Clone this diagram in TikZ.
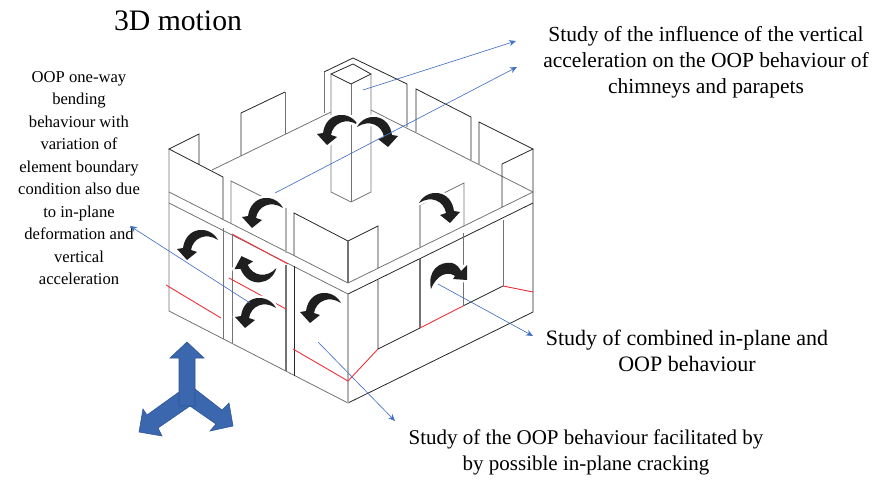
\documentclass[tikz,border=0pt]{standalone}
\usepackage{fontspec}
\setmainfont{Liberation Serif}
\usetikzlibrary{arrows.meta}
\definecolor{leadblue}{HTML}{4472C4}
\definecolor{axisfill}{HTML}{3B67AE}
\definecolor{axisedge}{HTML}{2F5597}
\definecolor{crackred}{HTML}{F0303A}
\tikzset{
  wallk/.style={draw=black!85,line width=0.8pt,line join=miter},
  wallg/.style={draw=black!55,line width=0.8pt},
  walll/.style={draw=black!30,line width=1.1pt},
  crack/.style={draw=crackred,line width=0.9pt},
  leader/.style={draw=leadblue,line width=0.65pt,-{Stealth[length=7pt,width=6pt]}},
  axisarrow/.style={fill=axisfill,draw=axisedge,line width=0.6pt,line join=miter},
  note/.style={align=center,inner sep=0pt,font=\fontsize{21.5}{26}\selectfont},
  sidenote/.style={align=center,inner sep=0pt,font=\fontsize{16.6}{22.5}\selectfont},
}
\newcommand{\crescentpath}{(20,-4) .. controls (12,-19) and (-12,-18) .. (-15,4) -- (-21,5) -- (-11,16) -- (-1,8) -- (-7,6) .. controls (-5,-6) and (8,-12) .. (20,-4) -- cycle}
\newcommand{\hookpath}{(431,289) .. controls (427,270) and (440,261) .. (452,263) .. controls (456,264) and (459,267) .. (461,271) -- (467,265) -- (467,280) -- (453,279) -- (455,276) .. controls (448,271) and (437,274) .. (431,289) -- cycle}
\newcommand{\momentarrow}[1]{\begin{scope}[#1]
  \draw[white,line width=5pt,line join=round] \crescentpath;
  \fill[black!88] \crescentpath;
\end{scope}}
\begin{document}
\begin{tikzpicture}[x=1pt,y=-1pt]
\useasboundingbox (0,0) rectangle (880,481);
% outline and band
\draw[wallg] (169,149) -- (169,311) -- (348,403);
\draw[wallk] (348,403) -- (533,312) -- (533,149);
\draw[wallg] (169,192) -- (348,283) -- (533,192);
\draw[wallg] (169,203) -- (348,294);
\draw[wallk] (348,294) -- (533,203);
% left corner
\draw[wallk] (199,164) -- (199,134) -- (169,149) -- (223,177) -- (223,219);
\draw[wallg] (223,228) -- (223,339);
% back left panel
\draw[wallk] (241,156) -- (241,113) -- (285,92);
\draw[wallg] (285,92) -- (285,134);
% roof edges
\draw[wallg] (212,170) -- (331,112);
\draw[wallg] (371,110) -- (533,192);
% chimney backing
\draw[wallk] (324,72) -- (353,58) -- (407,84) -- (407,127);
\draw[wallg] (324,113) -- (324,72);
% chimney
\draw[wallk] (331,74) -- (353,64) -- (371,74) -- (351,84) -- cycle;
\draw[wallg] (331,74) -- (331,192) -- (351,202) -- (371,192) -- (371,74);
\draw[wallg] (351,84) -- (351,202);
% back right panels
\draw[wallk] (416,132) -- (416,89) -- (471,117) -- (471,160);
\draw[wallk] (479,164) -- (479,122) -- (533,149) -- (502,164) -- (502,207);
\draw[wallg] (503,220) -- (503,286);
% left wall opening
\draw[wallg] (231,223) -- (231,181) -- (285,208);
\draw[walll] (286,208) -- (286,253);
\draw[wallg] (232,235) -- (232,343);
\draw[wallg,line width=1.3pt] (286,265) -- (286,371);
% front corner
\draw[wallk] (294,255) -- (294,213) -- (348,241) -- (378,226) -- (378,268);
\draw[wallk] (294,266) -- (294,376);
\draw[wallg,line width=1.2pt] (348,241) -- (348,283);
\draw[walll] (348,294) -- (348,403);
\draw[wallk] (378,280) -- (378,349) -- (420,328);
\draw[wallk] (463,306) -- (503,286);
% right wall opening
\draw[walll] (420,247) -- (420,205);
\draw[wallg] (420,205) -- (464,183) -- (464,226);
\draw[wallg,line width=1.2pt] (420,259) -- (420,328);
\draw[wallg] (463,233) -- (463,306);
% cracks
\draw[crack] (166,285) -- (221,318);
\draw[crack] (229,278) -- (286,309);
\draw[crack] (232,234) -- (288,264);
\draw[crack] (293,349) -- (348,381) -- (378,349);
\draw[crack] (420,328) -- (463,306);
\draw[crack] (503,286) -- (533,292);
% moment arrows
\momentarrow{shift={(263,212)}}
\momentarrow{shift={(198,244)}}
\momentarrow{shift={(256,269)},yscale=-1,rotate=-14}
\momentarrow{shift={(256,312)}}
\momentarrow{shift={(321,307)}}
\momentarrow{shift={(338,129)}}
\momentarrow{shift={(377,131)},xscale=-1}
\momentarrow{shift={(439,207)},xscale=-1}
\draw[white,line width=5pt,line join=round] \hookpath;
\fill[black!88] \hookpath;
% axes
\draw[axisarrow] (179,392) -- (147,415) -- (143,409) -- (139,432) -- (162,436) -- (158,428) -- (190,406) -- cycle;
\draw[axisarrow] (195,389) -- (222,410) -- (229,403) -- (233,426) -- (210,431) -- (216,424) -- (190,406) -- cycle;
\draw[axisarrow] (179,406) -- (179,358) -- (170,358) -- (187,342) -- (204,358) -- (195,358) -- (195,406) -- cycle;
% texts
\node[inner sep=0pt,font=\fontsize{29.7}{32}\selectfont] (title) at (178,21) {3D motion};
\node[note] (topnote) at (706,62) {Study of the influence of the vertical\\acceleration on the OOP behaviour of\\chimneys and parapets};
\node[sidenote] (sidenote) at (79,178) {OOP one-way\\bending\\behaviour with\\variation of\\element boundary\\condition also due\\to in-plane\\deformation and\\vertical\\acceleration};
\node[note,font=\fontsize{22}{26}\selectfont] (midnote) at (687,351) {Study of combined in-plane and\\OOP behaviour};
\node[note,font=\fontsize{21}{26}\selectfont] (botnote) at (586,452) {Study of the OOP behaviour facilitated by\\by possible in-plane cracking};
% leaders
\coordinate (la1) at (363,90); \coordinate (lb1) at (516,41);
\coordinate (la2) at (275,193); \coordinate (lb2) at (517,67);
\coordinate (la3) at (250,303); \coordinate (lb3) at (130,226);
\coordinate (la4) at (318,342); \coordinate (lb4) at (395,421);
\coordinate (la5) at (438,284); \coordinate (lb5) at (533,336);
\draw[leader] (la1) -- (lb1);
\draw[leader] (la2) -- (lb2);
\draw[leader] (la3) -- (lb3);
\draw[leader] (la4) -- (lb4);
\draw[leader] (la5) -- (lb5);
\end{tikzpicture}
\end{document}
